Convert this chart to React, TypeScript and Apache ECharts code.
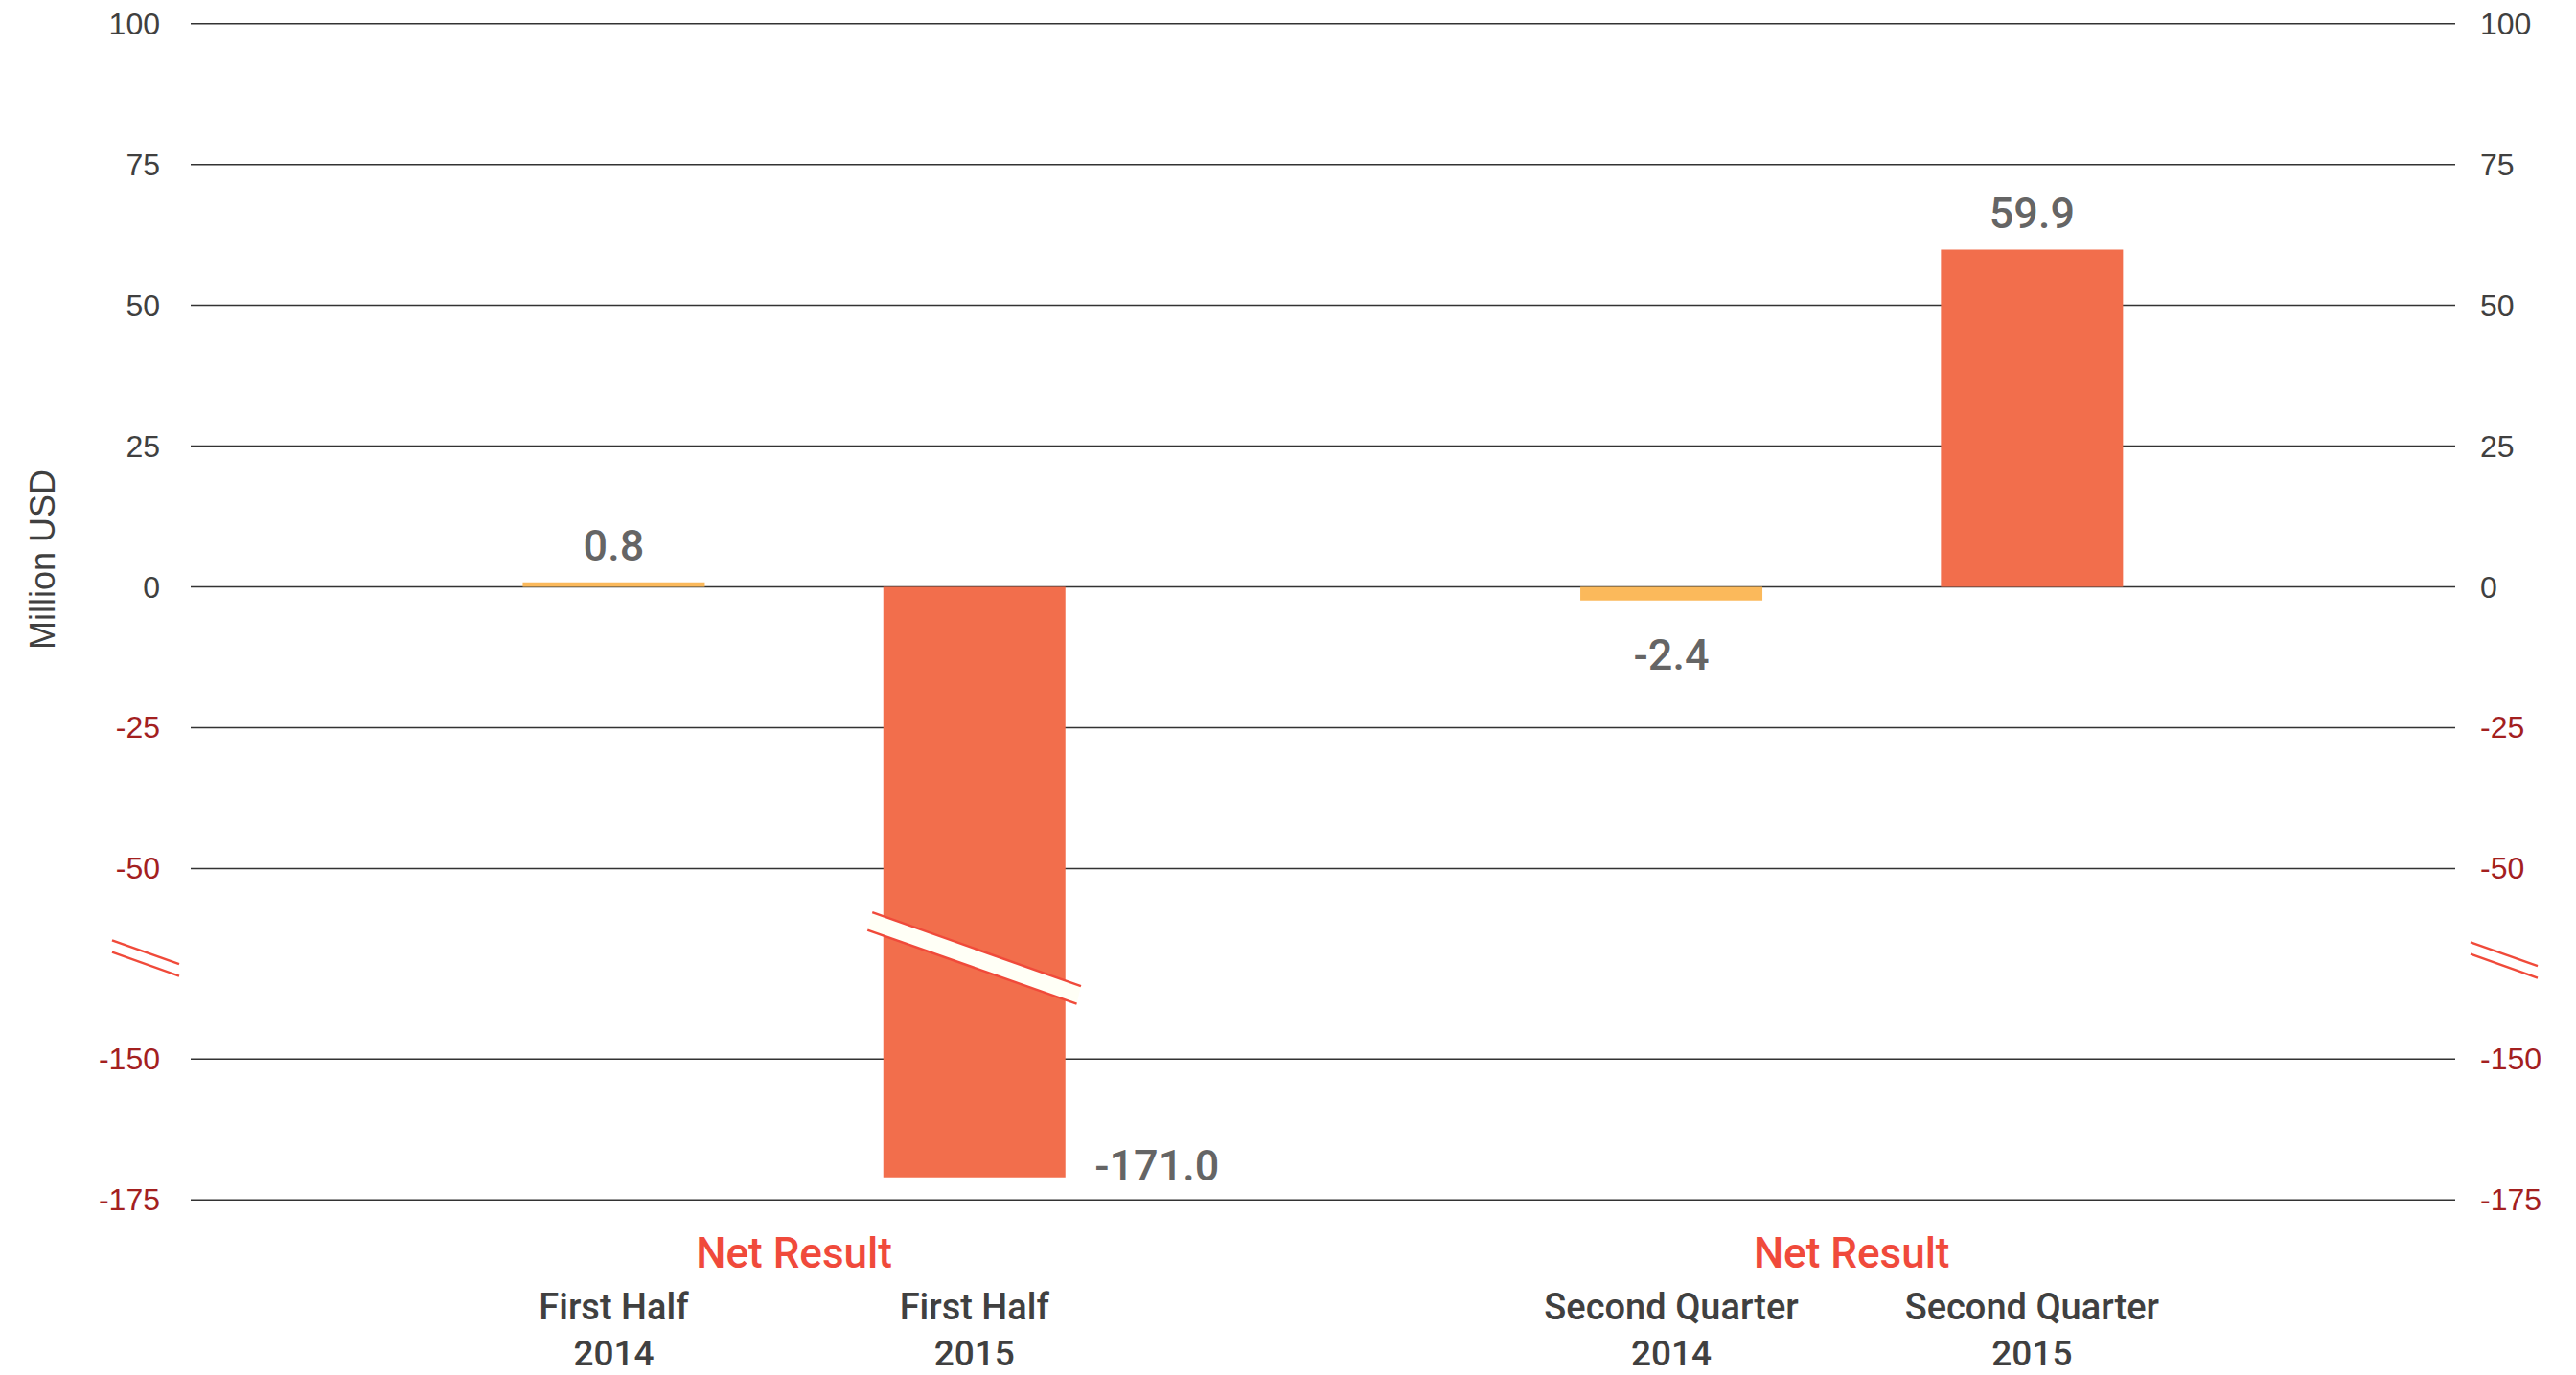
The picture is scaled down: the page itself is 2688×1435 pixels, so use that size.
import React, { useEffect, useRef } from "react";
import * as echarts from "echarts";

// Net result, million USD
const periods = ["First Half", "Second Quarter"];
const years = ["2014", "2015"];
const netResult2014 = [0.8, -2.4];
const netResult2015 = [-171.0, 59.9];
const yTicks = [100, 75, 50, 25, 0, -25, -50, -150, -175];
const groupLabel = "Net Result";
const axisTitle = "Million USD";

const yearColors = ["#fbb95b", "#f26e4c"];

// Broken value axis: the span between BREAK_TOP and BREAK_BOTTOM is squeezed
// to BREAK_SHOWN units, everything below it is shifted up by SHIFT.
const BREAK_TOP = -50;
const BREAK_BOTTOM = -150;
const BREAK_SHOWN = 33.84;
const SHIFT = BREAK_TOP - BREAK_BOTTOM - BREAK_SHOWN;
const toAxis = (v: number) => (v >= BREAK_TOP ? v : v + SHIFT);
const fromAxis = (a: number) => (a >= BREAK_TOP ? a : a - SHIFT);

const Y_MAX = toAxis(yTicks[0]);
const Y_MIN = toAxis(yTicks[yTicks.length - 1]);

const W = 2688;
const H = 1435;
const GRID_TOP = 24.7;
const GRID_BOTTOM = 182.7;
const PLOT_LEFT = 199;
const PLOT_RIGHT = 126;
const GROUP_LEFTS = [452.3, 1555.9];
const GROUP_WIDTH = 752.6;

const GRAY = "#404040";
const LABEL_GRAY = "#3a3a3a";
const DARK_RED = "#a3201f";
const ACCENT = "#f04a3b";

export default function App() {
  const ref = useRef<HTMLDivElement>(null);

  useEffect(() => {
    if (!ref.current) return;
    const chart = echarts.init(ref.current, undefined, { renderer: "svg" });

    const grids: any[] = [
      {
        left: PLOT_LEFT, right: PLOT_RIGHT, top: GRID_TOP, bottom: GRID_BOTTOM,
        outerBoundsMode: "none",
      },
    ];
    const xAxes: any[] = [
      { gridIndex: 0, type: "value", min: 0, max: 1, show: false },
    ];
    const yAxisLabel = (margin: number) => ({
      customValues: yTicks.map(toAxis),
      formatter: (v: number) => String(Math.round(fromAxis(Number(v)))),
      color: (v: any) => (fromAxis(Number(v)) < 0 ? DARK_RED : GRAY),
      fontSize: 32,
      fontFamily: "Liberation Sans",
      margin,
    });
    const yAxes: any[] = [
      {
        gridIndex: 0, type: "value", position: "left", min: Y_MIN, max: Y_MAX,
        axisLine: { show: false }, axisTick: { show: false }, splitLine: { show: false },
        axisLabel: { ...yAxisLabel(32), align: "right" },
      },
      {
        gridIndex: 0, type: "value", position: "right", min: Y_MIN, max: Y_MAX,
        axisLine: { show: false }, axisTick: { show: false }, splitLine: { show: false },
        axisLabel: { ...yAxisLabel(26), align: "left" },
      },
    ];

    const series: any[] = [
      {
        type: "custom",
        xAxisIndex: 0,
        yAxisIndex: 0,
        silent: true,
        z: 1,
        data: yTicks.map((t) => [0, toAxis(t)]),
        renderItem: (_p: any, api: any) => {
          const y = api.value(1);
          const a = api.coord([0, y]);
          const b = api.coord([1, y]);
          return {
            type: "line",
            shape: { x1: a[0], y1: a[1], x2: b[0], y2: b[1] },
            style: { stroke: "#333", lineWidth: 1.5 },
          };
        },
      },
    ];

    const catFont = { color: GRAY, fontFamily: "Roboto", fontWeight: 500 };

    periods.forEach((period, g) => {
      const gridIndex = g + 1;
      grids.push({
        left: GROUP_LEFTS[g],
        width: GROUP_WIDTH,
        top: GRID_TOP,
        bottom: GRID_BOTTOM,
        outerBoundsMode: "none",
      });
      const catAxis = xAxes.length;
      xAxes.push({
        gridIndex, type: "category", position: "bottom",
        data: years.map((y) => `${period}\n${y}`),
        axisLine: { show: false, onZero: false }, axisTick: { show: false },
        axisLabel: {
          margin: 82,
          formatter: (v: string) => {
            const [p, y] = v.split("\n");
            return `{p|${p}}\n{y|${y}}`;
          },
          rich: {
            p: { ...catFont, fontSize: 38, lineHeight: 60 },
            y: { ...catFont, fontSize: 37, lineHeight: 36 },
          },
        },
      });
      xAxes.push({
        gridIndex, type: "category", position: "bottom",
        data: [groupLabel],
        axisLine: { show: false, onZero: false }, axisTick: { show: false },
        axisLabel: {
          margin: 32, fontSize: 44, lineHeight: 48, color: ACCENT,
          fontFamily: "Roboto", fontWeight: 500,
        },
      });
      const yIdx = yAxes.length;
      yAxes.push({ gridIndex, type: "value", min: Y_MIN, max: Y_MAX, show: false, splitLine: { show: false } });

      const values = [netResult2014[g], netResult2015[g]];
      series.push({
        type: "bar",
        xAxisIndex: catAxis,
        yAxisIndex: yIdx,
        barWidth: 190,
        z: 2,
        data: values.map((v, i) => ({
          value: toAxis(v),
          itemStyle: { color: yearColors[i] },
        })),
      });
      series.push({
        type: "scatter",
        xAxisIndex: catAxis,
        yAxisIndex: yIdx,
        symbol: "circle",
        symbolSize: 1,
        itemStyle: { color: "rgba(0,0,0,0)" },
        silent: true,
        z: 4,
        data: values.map((v, i) => {
          let label: any;
          if (v >= 0) label = { position: "top", distance: 15 };
          else if (v > BREAK_TOP) label = { position: "bottom", distance: 34 };
          else label = { position: "right", distance: 125, offset: [0, -12] };
          return {
            value: [i, toAxis(v)],
            label: {
              show: true,
              formatter: v.toFixed(1),
              fontSize: 45,
              fontFamily: "Roboto",
              fontWeight: 500,
              color: LABEL_GRAY,
              ...label,
            },
          };
        }),
      });
    });

    chart.setOption({
      animation: false,
      backgroundColor: "#ffffff",
      grid: grids,
      xAxis: xAxes,
      yAxis: yAxes,
      series,
    });

    // Break markers on both value axes and across bars that pass the break
    const yTop = chart.convertToPixel({ yAxisIndex: 0 }, toAxis(BREAK_TOP)) as number;
    const yBottom = chart.convertToPixel({ yAxisIndex: 0 }, toAxis(BREAK_BOTTOM)) as number;
    const yBreak = yTop + 0.47 * (yBottom - yTop);
    const xLeft = chart.convertToPixel({ xAxisIndex: 0 }, 0) as number;
    const xRight = chart.convertToPixel({ xAxisIndex: 0 }, 1) as number;

    const breakStroke = { stroke: "#f04a3a", lineWidth: 2.4 };
    const axisMark = (cx: number, cy: number) =>
      [-6.2, 6.2].map((dy) => ({
        type: "line",
        z: 100,
        silent: true,
        shape: { x1: cx - 35, y1: cy - 12.4 + dy, x2: cx + 35, y2: cy + 12.4 + dy },
        style: breakStroke,
      }));

    const graphic: any[] = [
      {
        type: "text",
        x: 44,
        y: 584,
        rotation: Math.PI / 2,
        style: {
          text: axisTitle,
          fontSize: 36,
          fontFamily: "Liberation Sans",
          fill: GRAY,
          align: "center",
          verticalAlign: "middle",
        },
      },
      ...axisMark(xLeft - 47, yBreak),
      ...axisMark(xRight + 51, yBreak + 2),
    ];

    periods.forEach((_p, g) => {
      const values = [netResult2014[g], netResult2015[g]];
      values.forEach((v, i) => {
        if (v > BREAK_BOTTOM) return;
        const cx = chart.convertToPixel({ xAxisIndex: 1 + g * 2 }, i) as number;
        const cy = yBreak;
        const tl = [cx - 106.5, cy - 47.7];
        const tr = [cx + 111.2, cy + 29.3];
        const br = [cx + 106.8, cy + 47.7];
        const bl = [cx - 111.5, cy - 29.3];
        graphic.push({
          type: "polygon",
          z: 100,
          silent: true,
          shape: { points: [tl, tr, br, bl] },
          style: { fill: "#fffff6" },
        });
        graphic.push({
          type: "line", z: 101, silent: true,
          shape: { x1: tl[0], y1: tl[1], x2: tr[0], y2: tr[1] },
          style: breakStroke,
        });
        graphic.push({
          type: "line", z: 101, silent: true,
          shape: { x1: bl[0], y1: bl[1], x2: br[0], y2: br[1] },
          style: breakStroke,
        });
      });
    });

    chart.setOption({ graphic });

    return () => chart.dispose();
  }, []);

  return (
    <div
      ref={ref}
      style={{ position: "absolute", left: 0, top: 0, width: W, height: H }}
    />
  );
}
